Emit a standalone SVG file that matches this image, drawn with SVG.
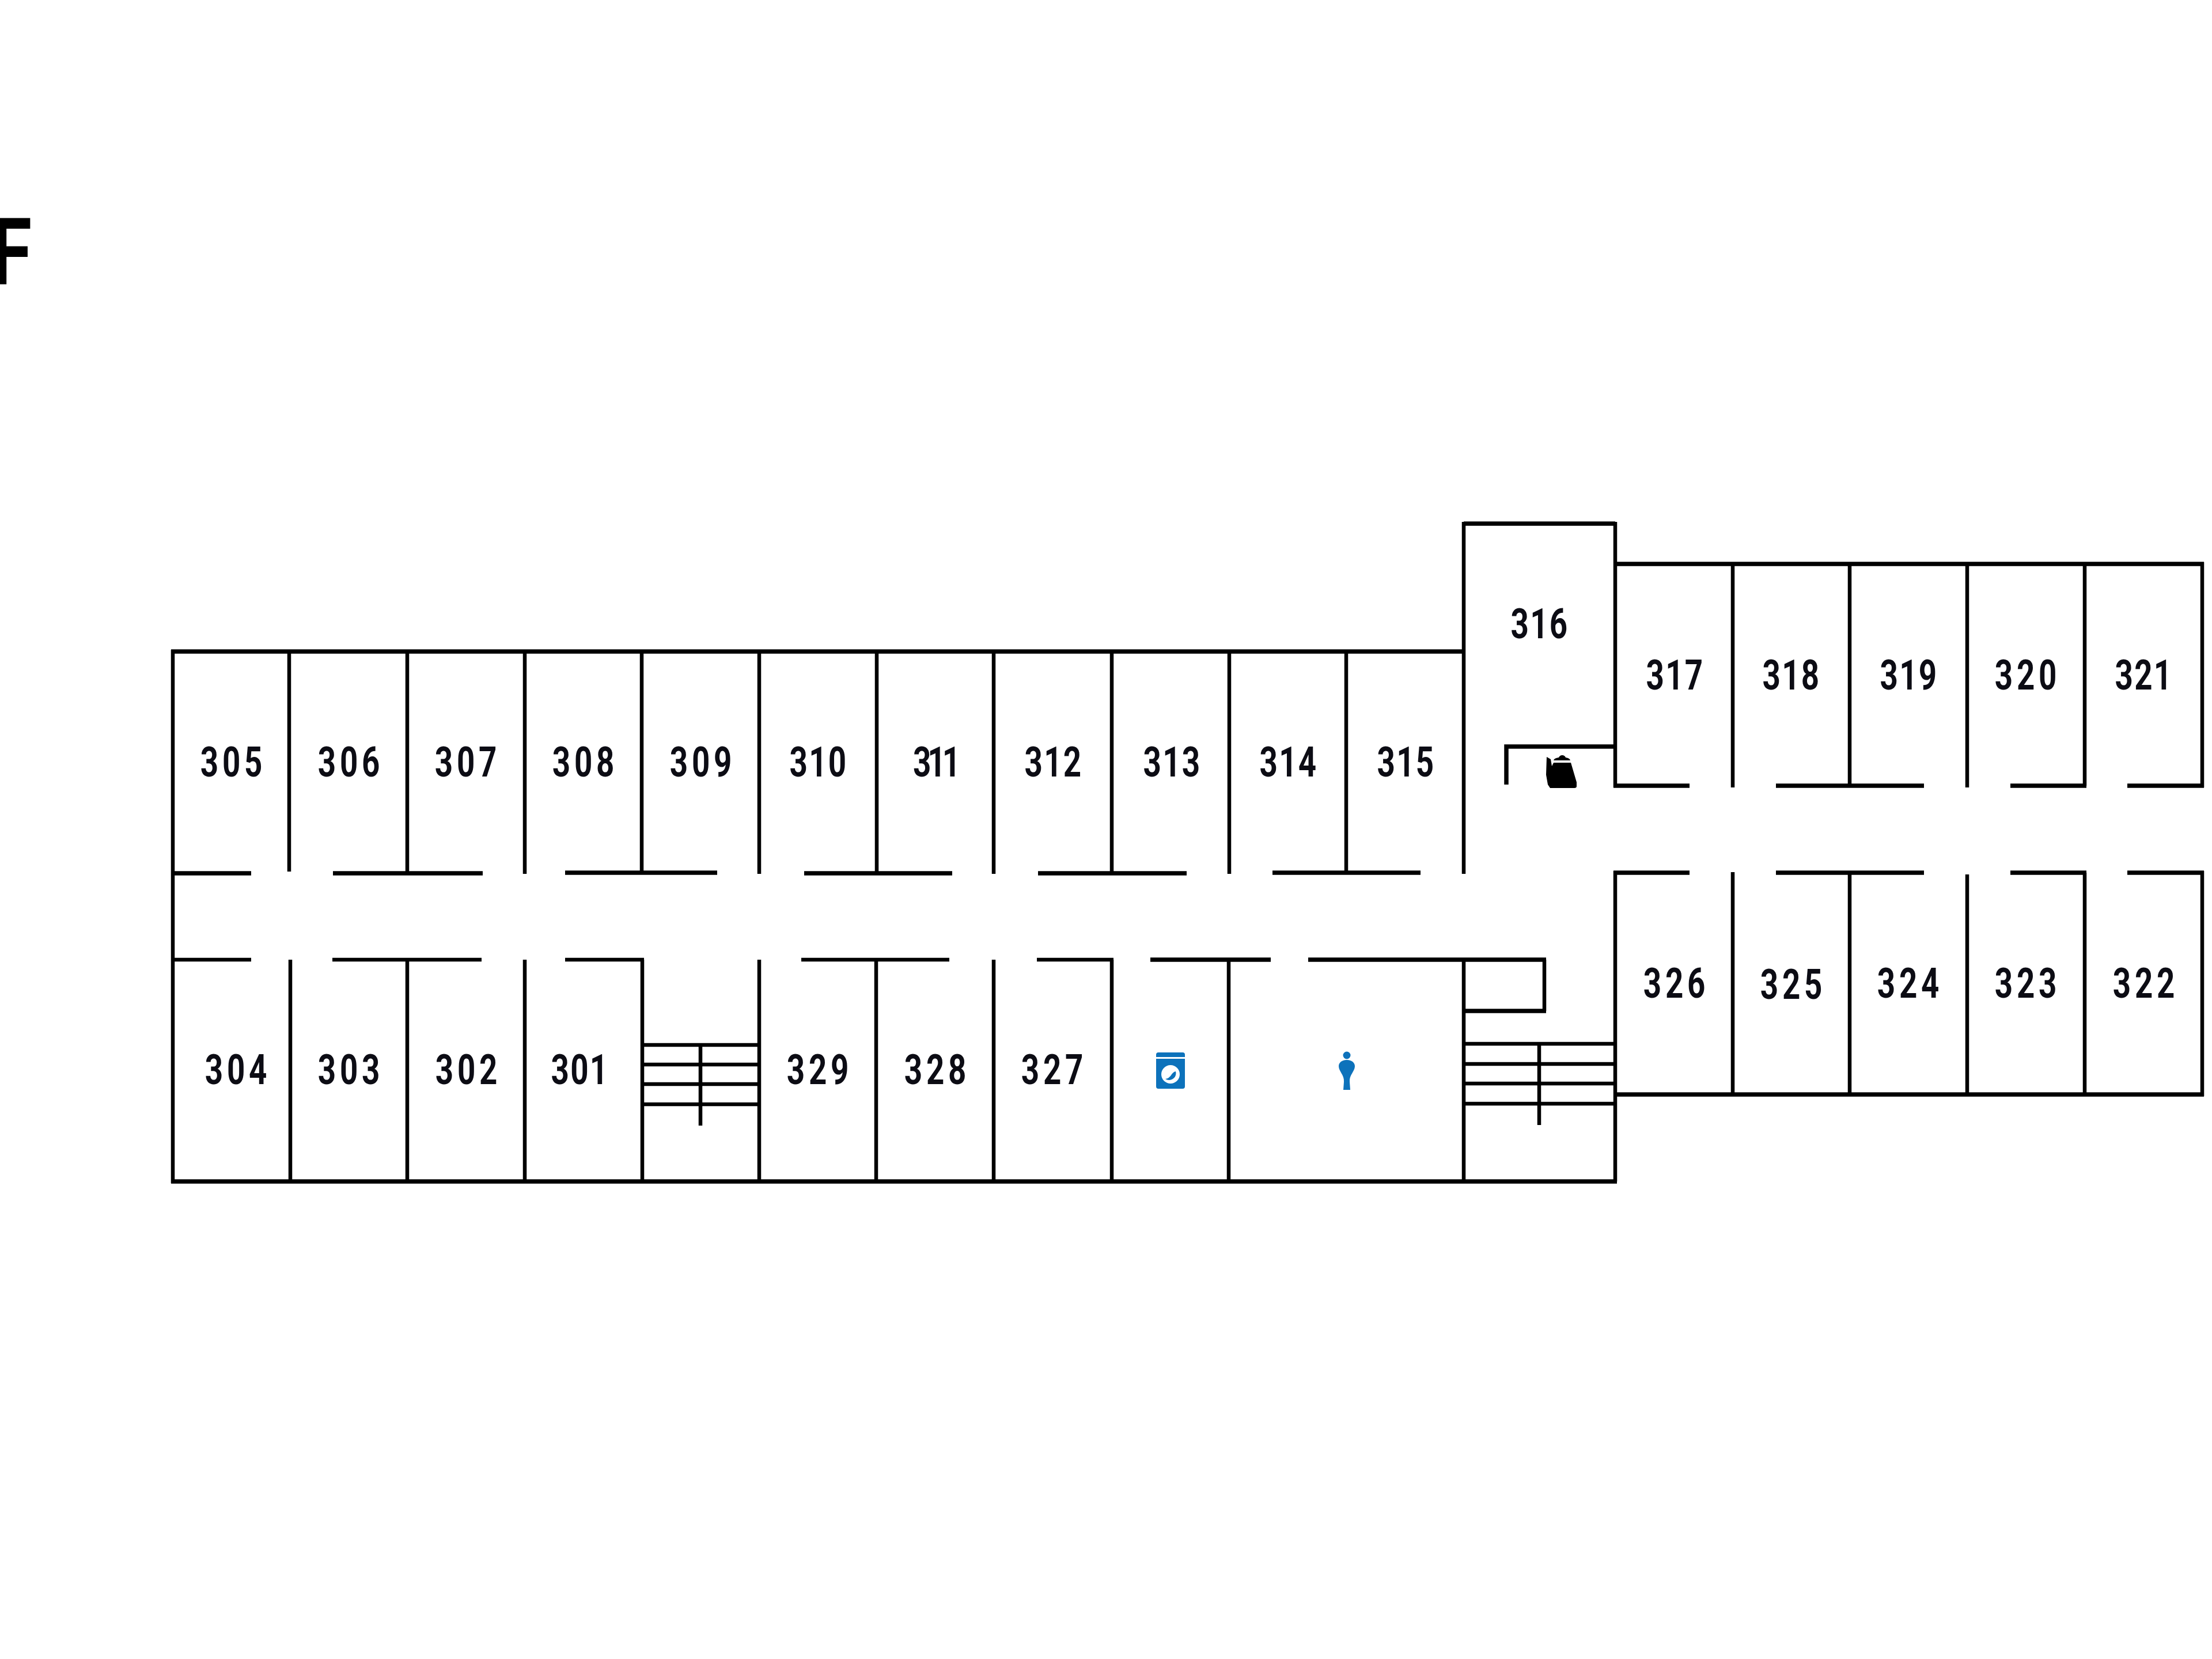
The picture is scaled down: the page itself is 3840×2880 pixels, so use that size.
<svg xmlns="http://www.w3.org/2000/svg" width="3840" height="2880" viewBox="0 0 3840 2880">
<style>
.w{fill:none;stroke:#000;stroke-width:6.5;stroke-linecap:butt}
.t{fill:none;stroke:#000;stroke-width:7.5}
text{font-family:Roboto,"Liberation Sans",sans-serif;fill:#0c0c14}
.r{font-size:72px;font-weight:700;letter-spacing:9px;text-anchor:middle}
.s{letter-spacing:3px}
.ss{letter-spacing:-8px}
.f{font-size:162px;font-weight:700;fill:#000}
.b{fill:#0d72bb}
</style>
<rect width="3840" height="2880" fill="#fff"/>
<text class="f" transform="translate(-16,493) scale(.8,1)">F</text>
<g id="walls">
<path class="t" d="M297 1131H2541M2541 909H2804M2804 979H3826M297 2051H2807M2804 1900H3826"/>
<path class="w" d="M300 1128V2054M2541 906V1517M2804 906V1367M2541 1663V2051M2804 1512V2051M3823 976V1367M3823 1512V1903"/>
<path class="t" d="M300 1516H436M578 1516H838M981 1515H1245M1396 1516H1653M1802 1516H2060M2209 1515H2466"/>
<path class="w" d="M300 1666H436M577 1666H836M981 1666H1118M1391 1666H1648M1800 1666H1933"/>
<path class="t" d="M1997 1666H2206M2271 1666H2684"/>
<path class="w" d="M502 1131V1513M707 1131V1516M911 1131V1517M1114 1131V1516M1318 1131V1517M1522 1131V1516M1725 1131V1517M1930 1131V1516M2134 1131V1517M2337 1131V1516"/>
<path class="w" d="M504 1666V2051M707 1666V2051M911 1666V2051M1115 1666V2051M1318 1666V2051M1521 1666V2051M1725 1666V2051M1930 1666V2051M2133 1666V2051"/>
<path class="t" d="M2801 1364H2933M3083 1364H3340M3490 1364H3622M3693 1364H3826M2801 1515H2933M3083 1515H3340M3490 1515H3622M3693 1515H3826"/>
<path class="w" d="M3008 979V1367M3211 979V1364M3415 979V1367M3619 979V1364M3008 1514V1900M3211 1515V1900M3415 1518V1900M3619 1515V1900"/>
</g>
<g id="stairs-west">
<path class="w" d="M1115 1814H1318M1115 1848H1318M1115 1882H1318M1115 1917H1318M1216 1814V1954"/>
</g>
<g id="stairs-east">
<path class="w" d="M2541 1812H2804M2541 1847H2804M2541 1881H2804M2541 1916H2804M2672 1812V1953"/>
</g>
<g id="closet">
<path class="w" d="M2681 1666V1755"/>
<path class="t" d="M2541 1755H2684"/>
</g>
<g id="kitchenette">
<path class="t" d="M2615 1362V1296H2807"/>
<path fill="#000" d="M2685 1314L2692 1318L2694 1330L2697 1324H2727L2737 1358V1365Q2737 1368 2733 1368H2691L2687 1362L2684 1345ZM2697 1320Q2698 1316 2706 1315Q2708 1311 2712 1311Q2716 1311 2718 1315Q2725 1316 2726 1320Z"/>
</g>
<g id="laundry-icon">
<path class="b" d="M2007 1835V1831Q2007 1827 2011 1827H2053Q2057 1827 2057 1831V1835ZM2007 1838H2057V1886Q2057 1890 2053 1890H2011Q2007 1890 2007 1886Z"/>
<circle cx="2032" cy="1865" r="16" fill="#fff"/>
<path class="b" d="M2023 1873Q2030 1872 2034 1865Q2038 1860 2041 1860Q2043 1868 2036 1873Q2029 1877 2023 1873Z"/>
</g>
<g id="restroom-icon">
<circle class="b" cx="2338" cy="1832" r="6.5"/>
<path class="b" d="M2338 1840C2347 1840 2352 1845 2352 1851C2352 1860 2342 1866 2343 1878L2344 1892H2332L2333 1878C2334 1866 2324 1860 2324 1851C2324 1845 2329 1840 2338 1840Z"/>
</g>
<g id="labels">
<text class="r" transform="translate(405,1348) scale(.76,1)">305</text>
<text class="r" transform="translate(609,1348) scale(.76,1)">306</text>
<text class="r" transform="translate(812,1348) scale(.76,1)">307</text>
<text class="r" transform="translate(1016,1348) scale(.76,1)">308</text>
<text class="r" transform="translate(1220,1348) scale(.76,1)">309</text>
<text class="r s" transform="translate(1421,1348) scale(.76,1)">310</text>
<text class="r ss" transform="translate(1623,1348) scale(.76,1)">311</text>
<text class="r s" transform="translate(1829,1348) scale(.76,1)">312</text>
<text class="r s" transform="translate(2035,1348) scale(.76,1)">313</text>
<text class="r s" transform="translate(2237,1348) scale(.76,1)">314</text>
<text class="r s" transform="translate(2441,1348) scale(.76,1)">315</text>
<text class="r" transform="translate(413,1882) scale(.76,1)">304</text>
<text class="r" transform="translate(609,1882) scale(.76,1)">303</text>
<text class="r" transform="translate(813,1882) scale(.76,1)">302</text>
<text class="r s" transform="translate(1007,1882) scale(.76,1)">301</text>
<text class="r" transform="translate(1423,1882) scale(.76,1)">329</text>
<text class="r" transform="translate(1627,1882) scale(.76,1)">328</text>
<text class="r" transform="translate(1830,1882) scale(.76,1)">327</text>
<text class="r s" transform="translate(2673,1108) scale(.76,1)">316</text>
<text class="r s" transform="translate(2908,1197) scale(.76,1)">317</text>
<text class="r s" transform="translate(3110,1197) scale(.76,1)">318</text>
<text class="r s" transform="translate(3314,1197) scale(.76,1)">319</text>
<text class="r" transform="translate(3520,1197) scale(.76,1)">320</text>
<text class="r s" transform="translate(3722,1197) scale(.76,1)">321</text>
<text class="r" transform="translate(2910,1732) scale(.76,1)">326</text>
<text class="r" transform="translate(3113,1734) scale(.76,1)">325</text>
<text class="r" transform="translate(3316,1732) scale(.76,1)">324</text>
<text class="r" transform="translate(3520,1732) scale(.76,1)">323</text>
<text class="r" transform="translate(3725,1732) scale(.76,1)">322</text>
</g>
</svg>
